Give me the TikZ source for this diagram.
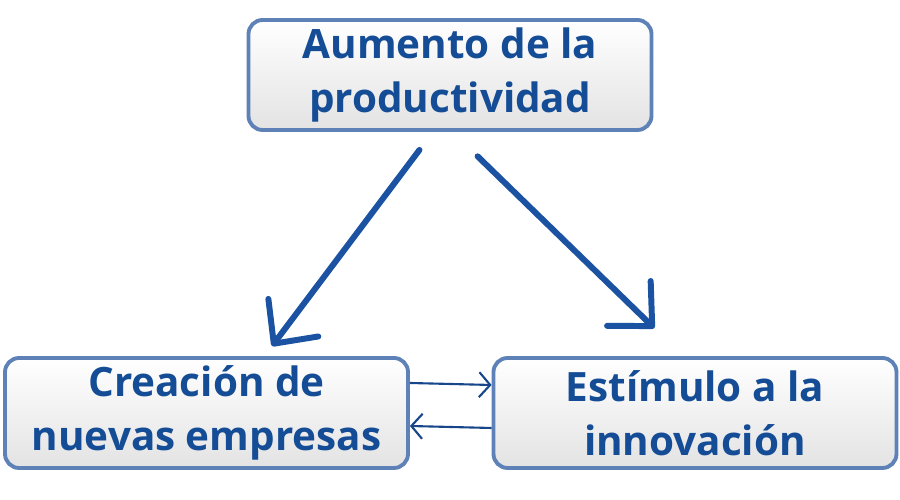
\documentclass[tikz,border=0pt]{standalone}
\usepackage{fontspec}
\setmainfont{Open Sans}
\usetikzlibrary{arrows.meta}
\definecolor{textblue}{HTML}{154C96}
\definecolor{frameblue}{HTML}{5E82B8}
\definecolor{arrowblue}{HTML}{1B52A2}
\begin{document}
\begin{tikzpicture}[auto, thick,
                    caja/.style={rectangle, minimum width=8.06cm, minimum height=2.2cm, rounded corners=8pt, align=center, text centered,
                                 draw=frameblue, line width=2.2pt, top color=white, bottom color=gray!22,
                                 text=textblue, font=\bfseries\fontsize{23}{31}\selectfont},
                    grande/.style={draw=arrowblue, line width=3.4pt, line cap=round, -{Straight Barb[length=0.65cm, width=1.25cm, round]}},
                    chica/.style={draw=arrowblue!85!black, line width=1.2pt, -{Straight Barb[length=0.22cm, width=0.5cm]}}]
        \useasboundingbox (0,0) rectangle (18,10);
        \node (Aumento) [caja] at (9,8.5) {Aumento de la\\productividad};
        \node (Creacion) [caja] at (4.13,1.74) {Creación de\\nuevas empresas};
        \node (Estimulo) [caja] at (13.9,1.74) {Estímulo a la\\innovación};

        \path
        ([xshift=-0.34cm]Aumento.south)
            edge [grande, shorten <=0.45cm, shorten >=0.25cm] ([xshift=1.16cm]Creacion.north)
        ([xshift=0.05cm]Aumento.south)
            edge [grande, shorten <=0.7cm, shorten >=0.8cm] ([xshift=-0.24cm]Estimulo.north)
        ([yshift=0.6cm]Creacion.east)
            edge [chica] ([yshift=0.56cm]Estimulo.west)
        ([yshift=-0.3cm]Estimulo.west)
            edge [chica] ([yshift=-0.26cm]Creacion.east)
        ;
\end{tikzpicture}
\end{document}
